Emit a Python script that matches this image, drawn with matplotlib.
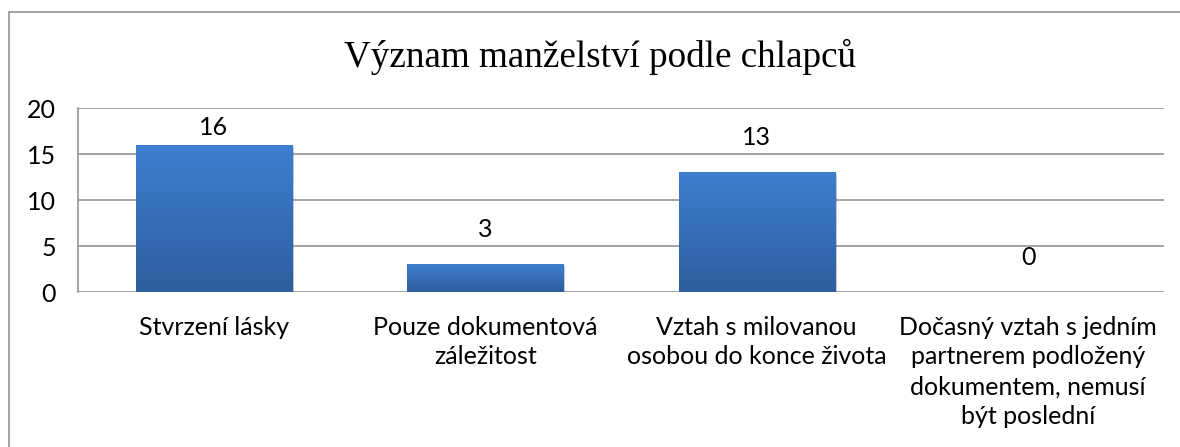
import matplotlib
matplotlib.use("Agg")
import matplotlib.pyplot as plt
import numpy as np
from matplotlib.patches import Rectangle
from matplotlib.colors import LinearSegmentedColormap
import matplotlib.patheffects as pe

title = "Význam manželství podle chlapců"
categories = [
    "Stvrzení lásky",
    "Pouze dokumentová\nzáležitost",
    "Vztah s milovanou\nosobou do konce života",
    "Dočasný vztah s jedním\npartnerem podložený\ndokumentem, nemusí\nbýt poslední",
]
values = [16, 3, 13, 0]
yticks = [0, 5, 10, 15, 20]

fig = plt.figure(figsize=(11.8, 4.47), dpi=100)
ax = fig.add_axes([78/1180, 1-292/447, (1164-78)/1180, (292-108)/447])

x = np.arange(len(categories))
bars = ax.bar(x, values, width=0.575, color="#3a74c0", zorder=3)

cmap = LinearSegmentedColormap.from_list("g", ["#2e5e9e", "#3e7fd0"])
grad = np.linspace(0, 1, 256).reshape(-1, 1)
for b in bars:
    if b.get_height() <= 0:
        continue
    b.set_path_effects([pe.SimplePatchShadow(offset=(1.5, -1.5), alpha=0.25), pe.Normal()])
    x0, y0 = b.get_x(), b.get_y()
    im = ax.imshow(grad, cmap=cmap, origin="lower", aspect="auto",
                   extent=[x0, x0 + b.get_width(), y0, y0 + b.get_height()],
                   zorder=4, interpolation="bilinear")
    im.set_clip_path(b)

ax.set_xlim(-0.5, len(categories) - 0.5)
ax.set_ylim(0, 20)
ax.set_yticks(yticks)
ax.set_xticks(x)
ax.set_xticklabels(categories, linespacing=1.36)

font = "Lato"
fs = 18
for lab in ax.get_xticklabels() + ax.get_yticklabels():
    lab.set_fontfamily(font)
    lab.set_fontsize(fs)
    lab.set_color("#000000")
ax.tick_params(axis="both", length=0)
ax.tick_params(axis="x", pad=17)
ax.tick_params(axis="y", pad=16)

ax.grid(axis="y", color="#8c8c8c", linewidth=1.1, zorder=0)
for s in ["top", "right", "bottom"]:
    ax.spines[s].set_visible(False)
ax.spines["left"].set_color("#8c8c8c")
ax.spines["left"].set_linewidth(1.1)

for xi, v in zip(x, values):
    ly = min(v + 3.8, 17.9)
    ax.text(xi, ly, str(v), ha="center", va="center", fontfamily=font,
            fontsize=fs, color="#000000", zorder=5)

fig.text(0.5085, 1 - 57/447, title, ha="center", va="center",
         fontfamily="Liberation Serif", fontsize=26.7, color="#000000")

fig.patches.append(Rectangle((8.5/1180, -0.1), 1.2, 1 - 12/447 + 0.1,
                             transform=fig.transFigure, fill=False,
                             edgecolor="#8c8c8c", linewidth=1.1))

fig.savefig("out.png", dpi=100)
